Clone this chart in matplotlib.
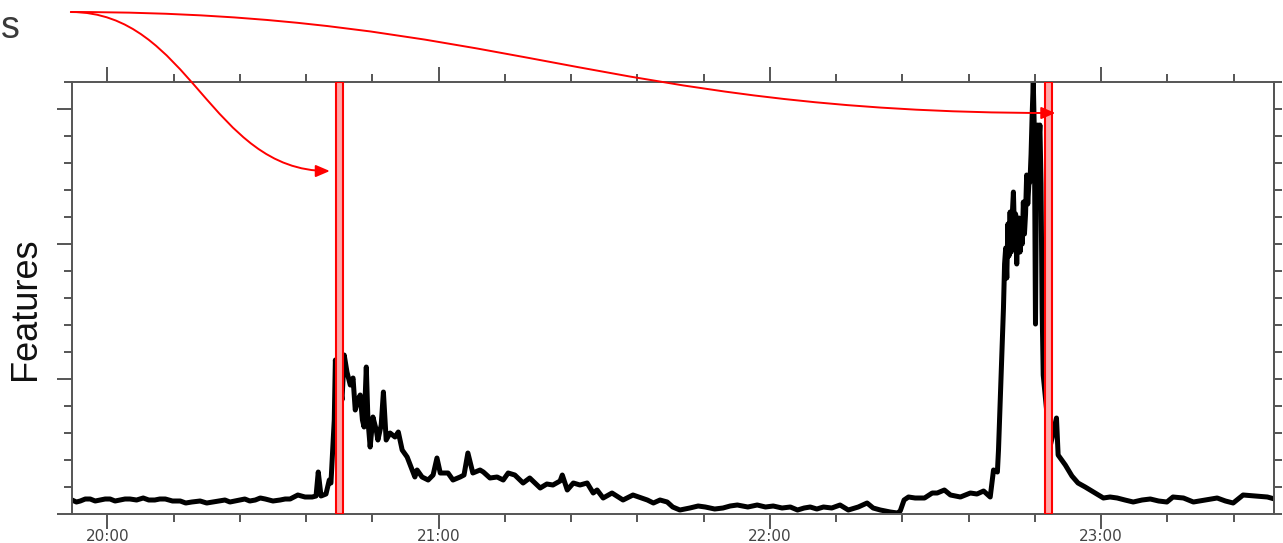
# Feature activity over one evening, with two marked events
import matplotlib
matplotlib.use('Agg')
import matplotlib.pyplot as plt
from matplotlib.ticker import MultipleLocator, FuncFormatter, NullFormatter
from matplotlib.patches import FancyArrowPatch
from matplotlib.path import Path

# ── Data ─────────────────────────────────────────────────────────────────────
# time in minutes after 20:00, feature level in arbitrary units
times = [
    -6.4, -5.6, -4.9, -4.0, -3.1, -2.2, -1.3, -0.4, 0.5, 1.4,
    2.3, 3.2, 4.1, 5.3, 6.5, 7.5, 8.6, 9.5, 10.5, 11.8,
    13.2, 14.2, 15.3, 16.8, 18.0, 19.1, 20.2, 21.3, 22.2, 23.1,
    24.0, 24.9, 25.8, 26.8, 27.7, 28.6, 30.0, 31.3, 32.2, 33.1,
    34.5, 35.8, 37.1, 37.8, 38.2, 38.7, 39.6, 40.2, 40.5, 41.1,
    41.3, 41.8, 42.2, 42.5, 42.9, 43.4, 44.0, 44.5, 44.9, 45.4,
    45.8, 46.2, 46.5, 46.9, 47.2, 47.6, 48.1, 48.7, 49.0, 49.6,
    50.0, 50.5, 51.2, 52.1, 52.7, 53.4, 54.3, 55.2, 55.7, 56.1,
    57.0, 58.1, 59.0, 59.7, 60.3, 61.7, 62.6, 63.9, 64.6, 65.3,
    66.2, 67.5, 68.1, 69.3, 70.6, 71.7, 72.6, 73.8, 75.3, 76.5,
    78.4, 79.6, 80.7, 82.0, 82.4, 83.3, 84.4, 85.6, 86.9, 88.0,
    88.7, 89.8, 91.4, 93.4, 95.2, 97.8, 98.9, 100.1, 101.4, 102.4,
    103.7, 105.5, 107.0, 108.3, 110.0, 111.5, 112.8, 114.1, 116.0, 117.7,
    119.2, 120.6, 122.2, 123.7, 125.0, 126.2, 127.3, 128.5, 129.7, 131.2,
    132.7, 134.2, 136.0, 137.6, 138.7, 140.0, 141.8, 143.1, 143.6, 144.3,
    145.1, 146.3, 148.0, 149.4, 150.3, 151.6, 152.7, 154.5, 156.3, 157.5,
    158.7, 159.9, 160.5, 161.2, 161.4, 161.7, 162.0, 162.3, 162.5, 162.7,
    162.9, 163.1, 163.3, 163.5, 163.7, 163.9, 164.1, 164.3, 164.5, 164.7,
    164.9, 165.1, 165.3, 165.5, 165.7, 165.9, 166.1, 166.3, 166.5, 166.7,
    166.9, 167.1, 167.3, 167.5, 167.7, 167.9, 168.1, 168.3, 168.5, 168.7,
    168.9, 169.1, 169.3, 169.5, 170.2, 170.8, 171.1, 171.9, 172.2, 173.5,
    174.7, 175.8, 177.1, 178.6, 180.4, 181.6, 182.9, 184.3, 185.8, 187.4,
    188.9, 190.4, 191.9, 193.0, 194.9, 196.7, 198.8, 201.0, 202.5, 203.9,
    205.7, 207.9, 210.1, 211.4,
]
features = [
    14, 12, 13, 15, 15, 13, 14, 15, 15, 13,
    14, 15, 15, 14, 16, 14, 14, 15, 15, 13,
    13, 11, 12, 13, 11, 12, 13, 14, 12, 13,
    14, 15, 13, 14, 16, 15, 13, 14, 15, 15,
    19, 17, 17, 18, 42, 18, 20, 34, 31, 94,
    154, 119, 129, 114, 159, 142, 129, 136, 104, 114,
    119, 94, 87, 147, 94, 67, 97, 84, 74, 89,
    122, 74, 81, 77, 82, 64, 57, 44, 37, 44,
    37, 34, 39, 56, 41, 41, 34, 37, 39, 61,
    41, 44, 42, 36, 37, 34, 41, 39, 31, 36,
    26, 30, 29, 33, 39, 24, 31, 29, 31, 21,
    24, 16, 21, 14, 19, 14, 11, 14, 12, 7,
    4, 6, 8, 7, 5, 6, 8, 9, 7, 9,
    7, 8, 6, 7, 4, 6, 7, 5, 7, 6,
    9, 4, 7, 11, 6, 4, 2, 1, 3, 14,
    17, 16, 16, 21, 21, 24, 19, 17, 21, 20,
    23, 17, 44, 42, 64, 112, 160, 206, 250, 266,
    236, 290, 258, 302, 262, 300, 322, 280, 300, 250,
    290, 296, 262, 285, 270, 312, 280, 300, 339, 310,
    330, 332, 360, 400, 432, 380, 190, 360, 389, 370,
    389, 330, 206, 139, 99, 69, 76, 96, 59, 49,
    38, 31, 27, 22, 16, 17, 16, 14, 12, 14,
    15, 13, 12, 17, 16, 12, 14, 16, 13, 11,
    19, 18, 17, 15,
]

# marked events (minutes after 20:00)
event_times = [42.0, 170.5]
event_width = 1.2

# ── Plot ─────────────────────────────────────────────────────────────────────
fig = plt.figure(figsize=(12.83, 5.43), dpi=100)
ax = fig.add_axes([0.0559, 0.0534, 0.9371, 0.7961])

ax.plot(times, features, color='black', lw=3.6, zorder=2)
for t in event_times:
    ax.axvspan(t - event_width / 2, t + event_width / 2,
               facecolor='#ffa8a8', edgecolor='red', lw=1.5, zorder=3)

ax.set_xlim(-6.45, 211.3)
ax.set_ylim(0, 432.3)

ax.xaxis.set_major_locator(MultipleLocator(60))
ax.xaxis.set_minor_locator(MultipleLocator(12))
ax.xaxis.set_major_formatter(FuncFormatter(
    lambda v, p: f'{20 + int(v // 60)}:{int(round(v % 60)):02d}'))
ax.yaxis.set_major_locator(MultipleLocator(135))
ax.yaxis.set_minor_locator(MultipleLocator(27))
ax.yaxis.set_major_formatter(NullFormatter())

ax.tick_params(which='both', direction='out', colors='#555555', width=1.4,
               top=True, right=False, labelcolor='#444444', labelsize=11, pad=-0.5)
ax.tick_params(which='major', length=11)
ax.tick_params(which='minor', length=6)

for s in ax.spines.values():
    s.set_color('#555555')
    s.set_linewidth(1.4)

# right side only carries the short ticks
sec = ax.secondary_yaxis('right')
sec.yaxis.set_major_locator(MultipleLocator(27))
sec.yaxis.set_major_formatter(NullFormatter())
sec.tick_params(direction='out', length=6, width=1.4, colors='#555555')
sec.spines['right'].set_color('#555555')
sec.spines['right'].set_linewidth(1.4)

# curved arrows from the label to each event
start = (-6.6, 502)
arrow_paths = [
    [start, (15.0, 502), (18.6, 343), (40.3, 343)],
    [start, (71.2, 502), (89.3, 401), (171.7, 401)],
]
codes = [Path.MOVETO, Path.CURVE4, Path.CURVE4, Path.CURVE4]
for verts in arrow_paths:
    arr = FancyArrowPatch(path=Path(verts, codes),
                          arrowstyle='-|>,head_length=0.7,head_width=0.3',
                          mutation_scale=12, color='red', lw=1.4,
                          transform=ax.transData, clip_on=False, zorder=5)
    ax.add_patch(arr)

fig.text(26 / 1283, 1 - 308.5 / 543, 'Features', rotation=90, fontsize=26,
         family='Liberation Sans', ha='center', va='center', color='#111111')
fig.text(0.5 / 1283, 1 - 38 / 543, 's', fontsize=27, family='Liberation Sans',
         ha='left', va='baseline', color='#3a3a3a')

fig.savefig('out.png', dpi=100)
